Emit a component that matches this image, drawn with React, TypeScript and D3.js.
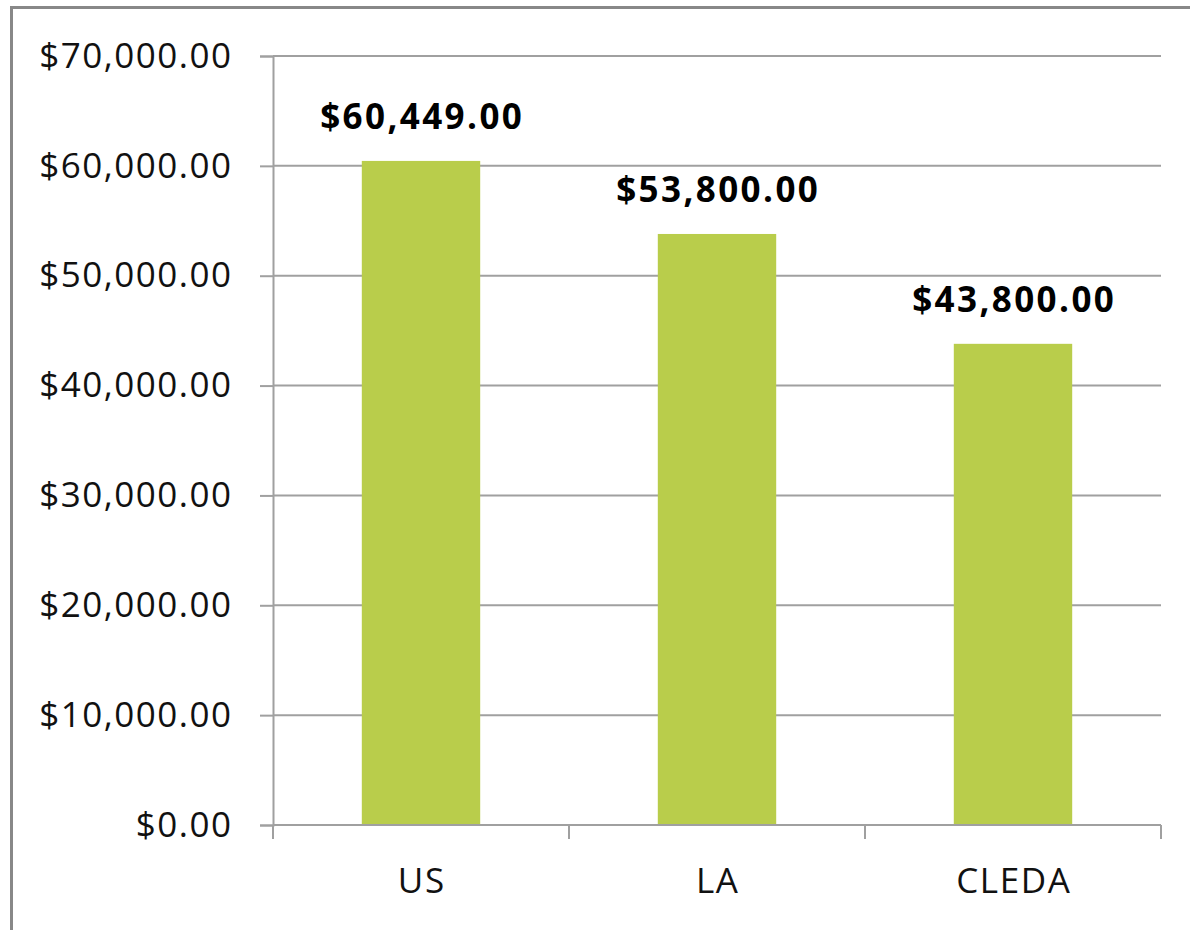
import * as d3 from "d3";
import { useEffect, useRef } from "react";

const categories = ["US", "LA", "CLEDA"];
const values = [60449, 53800, 43800];
const yTicks = [0, 10000, 20000, 30000, 40000, 50000, 60000, 70000];

const W = 1190;
const H = 930;
const margin = { top: 56, right: 29, bottom: 105, left: 273 };

const App = () => {
  const ref = useRef<SVGSVGElement>(null);

  useEffect(() => {
    const svg = d3.select(ref.current);
    svg.selectAll("*").remove();

    const innerW = W - margin.left - margin.right;
    const innerH = H - margin.top - margin.bottom;

    const x = d3.scaleBand().domain(categories).range([0, innerW]).padding(0);
    const y = d3.scaleLinear().domain([0, 70000]).range([innerH, 0]);
    const money = d3.format("$,.2f");
    const font = "'Open Sans', sans-serif";

    // frame (only left and top edges show)
    svg.append("line").attr("x1", 11.5).attr("x2", 11.5).attr("y1", 7).attr("y2", H)
      .attr("stroke", "#888").attr("stroke-width", 3);
    svg.append("line").attr("x1", 10).attr("x2", W).attr("y1", 7.5).attr("y2", 7.5)
      .attr("stroke", "#888").attr("stroke-width", 3);

    const g = svg.append("g").attr("transform", `translate(${margin.left},${margin.top})`);

    // gridlines
    g.append("g")
      .selectAll("line")
      .data(yTicks.filter((t) => t > 0))
      .join("line")
      .attr("x1", 0)
      .attr("x2", innerW)
      .attr("y1", (d) => y(d))
      .attr("y2", (d) => y(d))
      .attr("stroke", "#a0a0a0")
      .attr("stroke-width", 2);

    // bars
    const barW = x.bandwidth() * 0.4;
    g.append("g")
      .selectAll("rect")
      .data(values)
      .join("rect")
      .attr("x", (_, i) => x(categories[i])! + (x.bandwidth() - barW) / 2)
      .attr("y", (d) => y(d))
      .attr("width", barW)
      .attr("height", (d) => innerH - y(d))
      .attr("fill", "#b9cd4b");

    // data labels
    g.append("g")
      .selectAll("text")
      .data(values)
      .join("text")
      .attr("x", (_, i) => x(categories[i])! + x.bandwidth() / 2 + 1.2)
      .attr("y", (d) => y(d) - 32)
      .attr("text-anchor", "middle")
      .attr("font-family", font)
      .attr("font-weight", "bold")
      .attr("font-size", 35)
      .attr("letter-spacing", 2.4)
      .attr("fill", "#000")
      .text((d) => money(d));

    // y axis
    const yAxis = d3.axisLeft(y).tickValues(yTicks).tickFormat((d) => money(+d)).tickSize(13).tickPadding(29);
    const ya = g.append("g").call(yAxis);
    ya.select(".domain").attr("stroke", "#a0a0a0").attr("stroke-width", 2);
    ya.selectAll(".tick line").attr("stroke", "#a0a0a0").attr("stroke-width", 2);
    ya.selectAll(".tick text")
      .attr("font-family", font)
      .attr("font-size", 35)
      .attr("letter-spacing", 1.5)
      .attr("dx", 1.5)
      .attr("fill", "#111");

    // x axis
    const xa = g.append("g").attr("transform", `translate(0,${innerH})`);
    xa.append("line").attr("x1", 0).attr("x2", innerW).attr("y1", 0).attr("y2", 0)
      .attr("stroke", "#a0a0a0").attr("stroke-width", 2);
    const bounds = [...categories.map((c) => x(c)!), innerW];
    xa.selectAll("line.tk")
      .data(bounds)
      .join("line")
      .attr("class", "tk")
      .attr("x1", (d) => d)
      .attr("x2", (d) => d)
      .attr("y1", 0)
      .attr("y2", 14)
      .attr("stroke", "#a0a0a0")
      .attr("stroke-width", 2);
    xa.selectAll("text")
      .data(categories)
      .join("text")
      .attr("x", (d) => x(d)! + x.bandwidth() / 2 + 0.8)
      .attr("y", 68)
      .attr("text-anchor", "middle")
      .attr("font-family", font)
      .attr("font-size", 35)
      .attr("letter-spacing", 1.6)
      .attr("fill", "#111")
      .text((d) => d);
  }, []);

  return (
    <svg
      ref={ref}
      width={W}
      height={H}
      style={{ position: "absolute", left: 0, top: 0, background: "#fff" }}
    />
  );
};

export default App;
